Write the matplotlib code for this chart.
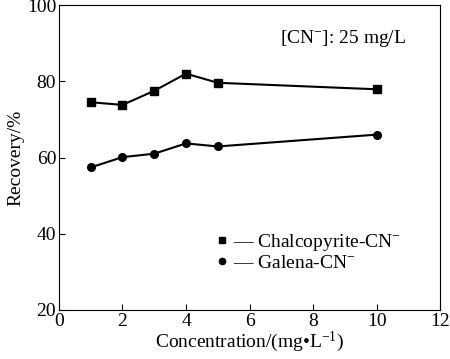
import matplotlib
matplotlib.use('Agg')
import matplotlib.pyplot as plt

plt.rcParams['font.family'] = ['Liberation Serif', 'DejaVu Serif']
plt.rcParams['mathtext.fontset'] = 'custom'
plt.rcParams['mathtext.rm'] = 'Liberation Serif'
plt.rcParams['mathtext.it'] = 'Liberation Serif:italic'

# Data
concentration = [1, 2, 3, 4, 5, 10]
chalcopyrite = [74.5, 73.8, 77.5, 82.0, 79.6, 77.9]
galena = [57.4, 60.1, 61.0, 63.7, 62.9, 66.0]

fig = plt.figure(figsize=(4.5, 3.59), dpi=100)
ax = fig.add_axes([0.131, 0.1365, 0.847, 0.8495])

ax.plot(concentration, chalcopyrite, '-s', color='black', lw=1.5, ms=5.5)
ax.plot(concentration, galena, '-o', color='black', lw=1.5, ms=5.5)

ax.set_xlim(0, 12)
ax.set_ylim(20, 100)
ax.set_xticks(range(0, 13, 2))
ax.set_yticks(range(20, 101, 20))
ax.tick_params(direction='in', labelsize=14, length=4, top=False, right=False, pad=2)
ax.set_xlabel(r'Concentration/(mg•L$^{-1}$)', fontsize=14, labelpad=0)
ax.set_ylabel('Recovery/%', fontsize=14, labelpad=2)

ax.text(0.58, 0.89, r'[CN$^{-}$]: 25 mg/L', transform=ax.transAxes,
        fontsize=14, va='center')

# legend: marker only, the dash is part of the label
handles = [plt.Line2D([], [], color='black', marker='s', ls='none', ms=4.5),
           plt.Line2D([], [], color='black', marker='o', ls='none', ms=4.5)]
ax.legend(handles, [r'— Chalcopyrite-CN$^{-}$', r'— Galena-CN$^{-}$'],
          loc='center left', bbox_to_anchor=(0.37, 0.19), frameon=False,
          fontsize=14, handlelength=0.5, handletextpad=0.3, labelspacing=0.05)

plt.savefig('out.png', dpi=100)
